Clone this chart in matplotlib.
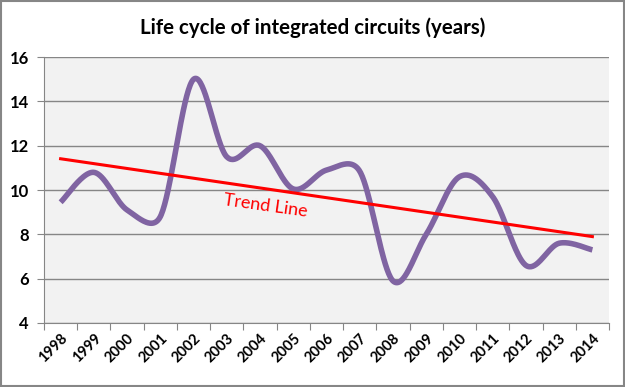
import numpy as np
import matplotlib
matplotlib.use("Agg")
import matplotlib.pyplot as plt
from matplotlib.patches import Rectangle

plt.rcParams['font.family'] = ['Lato', 'DejaVu Sans']

# data
years = ['1998', '1999', '2000', '2001', '2002', '2003', '2004', '2005', '2006',
         '2007', '2008', '2009', '2010', '2011', '2012', '2013', '2014']
life = [9.45, 10.8, 9.1, 8.8, 15.0, 11.5, 12.0, 10.05, 10.9,
        10.85, 5.9, 8.0, 10.6, 9.7, 6.6, 7.6, 7.3]


# -------------------------
def smooth(x, y, sx=33.2, sy=22.2, n=40):
    """
    Bezier curve through the points, the way Excel smooths a line:
    control vectors of (P[i+1] - P[i-1]) / 6, capped at half of the
    neighbouring segment (distances measured in pixels, sx/sy per unit).
    """
    p = np.column_stack([np.asarray(x, float) * sx, np.asarray(y, float) * sy])
    m = len(p)
    ctrl_in = p.copy()
    ctrl_out = p.copy()
    for i in range(m):
        a = p[max(i - 1, 0)]
        b = p[min(i + 1, m - 1)]
        t = b - a
        d02 = np.hypot(*t)
        if d02 == 0:
            continue
        if i > 0:
            d01 = np.hypot(*(p[i] - p[i - 1]))
            ctrl_in[i] = p[i] - t * min(1 / 6, d01 / (2 * d02))
        if i < m - 1:
            d12 = np.hypot(*(p[i + 1] - p[i]))
            ctrl_out[i] = p[i] + t * min(1 / 6, d12 / (2 * d02))
    u = np.linspace(0, 1, n)[:, None]
    pts = []
    for i in range(m - 1):
        seg = ((1 - u)**3 * p[i] + 3 * (1 - u)**2 * u * ctrl_out[i]
               + 3 * (1 - u) * u**2 * ctrl_in[i + 1] + u**3 * p[i + 1])
        pts.append(seg if i == 0 else seg[1:])
    pts = np.vstack(pts)
    return pts[:, 0] / sx, pts[:, 1] / sy


fig = plt.figure(figsize=(6.25, 3.87), dpi=100)
ax = fig.add_axes([0.0704, 0.1654, 0.904, 0.687])
ax.set_facecolor('#F2F2F2')

idx = np.arange(len(years))
cx, cy = smooth(idx, life)
ax.plot(cx, cy, color='#8064A2', lw=4, solid_capstyle='butt', zorder=3)

slope, icpt = np.polyfit(idx, life, 1)
ax.plot([idx[0], idx[-1]], [icpt, icpt + slope * idx[-1]],
        color='#FF0000', lw=2.2, zorder=4)
ax.text(6.16, 9.3, 'Trend Line', color='#FF0000', fontsize=13,
        rotation=-8, ha='center', va='center', zorder=5)

ax.set_xlim(-0.5, len(years) - 0.5)
ax.set_ylim(4, 16)
ax.set_yticks(range(4, 17, 2))
ax.yaxis.grid(True, color='#868686', lw=1)
ax.set_axisbelow(True)

ax.set_xticks(np.arange(-0.5, len(years), 1.0))
ax.set_xticklabels([])
ax.set_xticks(idx, minor=True)
ax.set_xticklabels(years, minor=True, rotation=45, ha='right',
                   rotation_mode='anchor', fontsize=10.5, fontweight='bold')
ax.tick_params(axis='x', which='minor', length=0, pad=6)
ax.tick_params(axis='x', which='major', length=5, color='#868686')
ax.tick_params(axis='y', length=5, color='#868686', labelsize=12, pad=6)
for lab in ax.get_yticklabels():
    lab.set_fontweight('bold')

for s in ['top', 'right']:
    ax.spines[s].set_visible(False)
for s in ['left', 'bottom']:
    ax.spines[s].set_color('#868686')

fig.text(0.5, 0.928, 'Life cycle of integrated circuits (years)',
         ha='center', va='center', fontsize=14.8, fontweight='bold')

fig.patches.append(Rectangle((0.002, 0.003), 0.996, 0.994, transform=fig.transFigure,
                             fill=False, edgecolor='#868686', lw=1.5))

fig.savefig('out.png', dpi=100)
